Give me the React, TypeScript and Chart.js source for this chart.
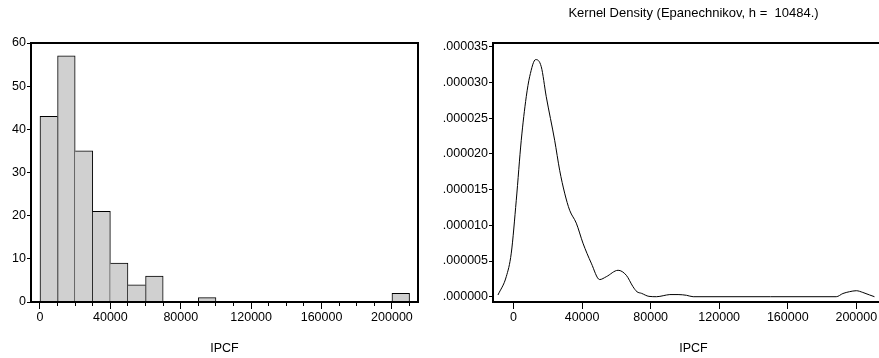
import React, { useEffect, useRef } from "react";
import { Chart, registerables } from "chart.js";

Chart.register(...registerables);

const FONT_FAMILY = "'Liberation Sans', Arial, sans-serif";
const FONT_SIZE = 12.5;

// Histogram (left)
const binCenters = [5000, 15000, 25000, 35000, 45000, 55000, 65000, 75000, 85000, 95000, 105000, 115000, 125000, 135000, 145000, 155000, 165000, 175000, 185000, 195000, 205000];
const binCounts = [43, 57, 35, 21, 9, 4, 6, 0, 0, 1, 0, 0, 0, 0, 0, 0, 0, 0, 0, 0, 2];
const histXTicks = [0, 10000, 20000, 30000, 40000, 50000, 60000, 70000, 80000, 90000, 100000, 110000, 120000, 130000, 140000, 150000, 160000, 170000, 180000, 190000, 200000, 210000];
const histXLabels = [0, 40000, 80000, 120000, 160000, 200000];
const histYTicks = [0, 10, 20, 30, 40, 50, 60];

// Kernel density (right)
const densityX = [-9100, -4260, -1340, 1580, 4490, 7410, 9390, 12900, 16160, 19080, 23980, 26900, 29820, 32740, 36600, 40500, 45340, 50250, 54100, 61000, 65800, 69700, 72000, 74700, 79000, 83500, 87300, 91200, 96000, 100900, 104800, 150000, 188300, 192200, 196000, 200000, 203800, 207700, 210600];
const densityY = [0.00000024, 0.0000028, 0.0000061, 0.0000135, 0.0000219, 0.000028, 0.0000308, 0.0000332, 0.0000322, 0.000028, 0.0000219, 0.0000177, 0.0000145, 0.0000121, 0.0000103, 0.0000075, 0.0000047, 0.0000024, 0.0000028, 0.0000037, 0.000003, 0.0000014, 0.0000007, 0.00000047, 0.00000005, 0, 0.00000014, 0.0000003, 0.0000003, 0.0000002, 0, 0, 0, 0.00000045, 0.0000007, 0.00000084, 0.0000006, 0.00000025, 0];
const densityXTicks = [0, 40000, 80000, 120000, 160000, 200000];
const densityYTicks = [0, 0.000005, 0.00001, 0.000015, 0.00002, 0.000025, 0.00003, 0.000035];

const xTitle = "IPCF";
const densityTitle = "Kernel Density (Epanechnikov, h =  10484.)";

const font = { family: FONT_FAMILY, size: FONT_SIZE, weight: "normal" as const };
const titleFont = { family: FONT_FAMILY, size: 13, weight: "normal" as const };

const boxPlugin = {
  id: "boxFrame",
  afterDatasetsDraw(chart: any) {
    const { ctx, chartArea: a } = chart;
    ctx.save();
    ctx.strokeStyle = "#000";
    ctx.lineWidth = 2;
    ctx.strokeRect(a.left, a.top, a.right - a.left, a.bottom - a.top);
    ctx.restore();
  },
};

export default function App() {
  const leftRef = useRef<HTMLCanvasElement | null>(null);
  const rightRef = useRef<HTMLCanvasElement | null>(null);

  useEffect(() => {
    const n = binCounts.length;
    const left = new Chart(leftRef.current as HTMLCanvasElement, {
      type: "bar",
      data: {
        datasets: [
          {
            data: binCenters.map((x, i) => ({ x, y: binCounts[i] })),
            backgroundColor: "#d0d0d0",
            borderColor: "#000",
            borderWidth: (c: any) => {
              const i = c.dataIndex;
              const v = binCounts[i];
              const prev = i > 0 ? binCounts[i - 1] : 0;
              const next = i < n - 1 ? binCounts[i + 1] : 0;
              if (v <= 0) return 0;
              return { top: 1, left: v >= prev ? 1 : 0, right: v > next ? 1 : 0, bottom: 0 };
            },
            barPercentage: 1,
            categoryPercentage: 1,
          } as any,
        ],
      },
      options: {
        responsive: false,
        animation: false,
        devicePixelRatio: 1,
        layout: { padding: { top: 43, right: 22, left: 0, bottom: 0 } },
        plugins: { legend: { display: false }, tooltip: { enabled: false }, title: { display: false } },
        scales: {
          x: {
            type: "linear",
            min: -5100,
            max: 214800,
            offset: false,
            afterBuildTicks: (s: any) => {
              s.ticks = histXTicks.map((v) => ({ value: v }));
            },
            afterFit: (s: any) => {
              s.height = 56;
            },
            grid: {
              offset: false,
              drawOnChartArea: false,
              drawTicks: true,
              tickLength: 7,
              color: "#000",
              tickColor: "#000",
              tickBorderDash: (c: any) => (c.tick && histXLabels.includes(c.tick.value) ? [] : [4, 20]),
            } as any,
            border: { display: false },
            ticks: {
              autoSkip: false,
              maxRotation: 0,
              padding: 1,
              color: "#000",
              font,
              callback: (v: any) => (histXLabels.includes(Number(v)) ? String(v) : ""),
            },
            title: { display: true, text: xTitle, color: "#000", font, padding: { top: 0, bottom: 2 } },
          },
          y: {
            type: "linear",
            min: 0,
            max: 60,
            afterBuildTicks: (s: any) => {
              s.ticks = histYTicks.map((v) => ({ value: v }));
            },
            afterFit: (s: any) => {
              s.width = 31;
            },
            grid: { drawOnChartArea: false, tickLength: 4, color: "#000", tickColor: "#000" },
            border: { display: false },
            ticks: { padding: 1, color: "#000", font, callback: (v: any) => String(v) },
          },
        },
      } as any,
      plugins: [boxPlugin],
    });

    const right = new Chart(rightRef.current as HTMLCanvasElement, {
      type: "line",
      data: {
        datasets: [
          {
            data: densityX.map((x, i) => ({ x, y: densityY[i] })),
            borderColor: "#000",
            borderWidth: 1,
            pointRadius: 0,
            fill: false,
            cubicInterpolationMode: "monotone",
          } as any,
        ],
      },
      options: {
        responsive: false,
        animation: false,
        devicePixelRatio: 1,
        layout: { padding: { top: 0, right: 0, left: 0, bottom: 0 } },
        plugins: {
          legend: { display: false },
          tooltip: { enabled: false },
          title: {
            display: true,
            text: densityTitle,
            fullSize: false,
            color: "#000",
            font: titleFont,
            padding: { top: 6, bottom: 21.4 },
          },
        },
        scales: {
          x: {
            type: "linear",
            min: -12000,
            max: 222000,
            offset: false,
            afterBuildTicks: (s: any) => {
              s.ticks = densityXTicks.map((v) => ({ value: v }));
            },
            afterFit: (s: any) => {
              s.height = 56;
            },
            grid: { drawOnChartArea: false, tickLength: 7, color: "#000", tickColor: "#000" },
            border: { display: false },
            ticks: { autoSkip: false, maxRotation: 0, padding: 1, color: "#000", font, callback: (v: any) => String(v) },
            title: { display: true, text: xTitle, color: "#000", font, padding: { top: 0, bottom: 2 } },
          },
          y: {
            type: "linear",
            min: -0.00000074,
            max: 0.00003552,
            afterBuildTicks: (s: any) => {
              s.ticks = densityYTicks.map((v) => ({ value: v }));
            },
            afterFit: (s: any) => {
              s.width = 53;
            },
            grid: { drawOnChartArea: false, tickLength: 4, color: "#000", tickColor: "#000" },
            border: { display: false },
            ticks: {
              padding: 1,
              color: "#000",
              font,
              callback: (v: any) => Number(v).toFixed(6).replace(/^0/, ""),
            },
          },
        },
      } as any,
      plugins: [boxPlugin],
    });

    return () => {
      left.destroy();
      right.destroy();
    };
  }, []);

  return (
    <div style={{ position: "absolute", left: 0, top: 0, width: 879, height: 358, overflow: "hidden", background: "#fff" }}>
      <canvas ref={leftRef} width={440} height={358} style={{ position: "absolute", left: 0, top: 0 }} />
      <canvas ref={rightRef} width={454} height={358} style={{ position: "absolute", left: 440, top: 0 }} />
    </div>
  );
}
